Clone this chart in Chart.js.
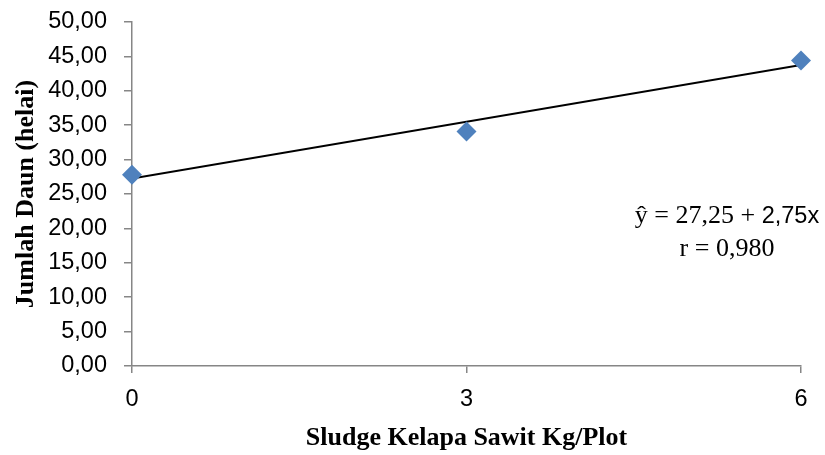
<!DOCTYPE html>
<html>
<head>
<meta charset="utf-8">
<script src="https://cdn.jsdelivr.net/npm/chart.js@4/dist/chart.umd.min.js"></script>
<style>
  html, body { margin: 0; padding: 0; background: #ffffff; }
  #c { display: block; }
</style>
</head>
<body>
<canvas id="c" width="825" height="455"></canvas>
<script>
// ---- data ----
const doseKg = [0, 3, 6];
const leafCount = [27.8, 34.1, 44.4];
const xTicks = [0, 3, 6];
const yTicks = [0, 5, 10, 15, 20, 25, 30, 35, 40, 45, 50];
const trendIntercept = 27.25;
const trendSlope = 2.75;
const trendX = [0, 6];
const trendY = [27.25, 43.75];
const rValue = '0,980';

const fmt = (v, d) => v.toFixed(d).replace('.', ',');

const scatterPts = doseKg.map((x, i) => ({ x: x, y: leafCount[i] }));
const trendPts = trendX.map((x, i) => ({ x: x, y: trendY[i] }));

const eqPlugin = {
  id: 'eq',
  afterDraw(chart) {
    const ctx = chart.ctx;
    ctx.save();
    ctx.fillStyle = '#000000';
    ctx.textBaseline = 'alphabetic';
    const serif = '26px "Liberation Serif", "Times New Roman", serif';
    const sans = '23.5px "Liberation Sans", Arial, sans-serif';
    const p1 = '\u0177 = ' + fmt(trendIntercept, 2) + ' + ';
    const p2 = fmt(trendSlope, 2) + 'x';
    ctx.font = serif; const w1 = ctx.measureText(p1).width;
    ctx.font = sans; const w2 = ctx.measureText(p2).width;
    const cx = 727;
    let x0 = cx - (w1 + w2) / 2;
    ctx.textAlign = 'left';
    ctx.font = serif; ctx.fillText(p1, x0, 223);
    ctx.font = sans; ctx.fillText(p2, x0 + w1, 223);
    ctx.font = serif; ctx.textAlign = 'center';
    ctx.fillText('r = ' + rValue, cx, 256);
    ctx.restore();
  }
};

new Chart(document.getElementById('c'), {
  type: 'scatter',
  data: {
    datasets: [
      {
        type: 'line',
        data: trendPts,
        borderColor: '#000000',
        borderWidth: 2,
        pointRadius: 0,
        fill: false,
        order: 2
      },
      {
        type: 'scatter',
        data: scatterPts,
        pointStyle: 'rectRot',
        pointRadius: 10,
        pointHoverRadius: 10,
        backgroundColor: '#4F81BD',
        borderColor: '#4F81BD',
        borderWidth: 0,
        clip: false,
        order: 1
      }
    ]
  },
  options: {
    responsive: false,
    animation: false,
    events: [],
    layout: { padding: { left: 0, top: 22, right: 24, bottom: 0 } },
    plugins: { legend: { display: false }, tooltip: { enabled: false } },
    scales: {
      x: {
        type: 'linear',
        min: 0, max: 6,
        afterFit(s) { s.height = 89; s.paddingLeft = 0; s.paddingRight = 0; },
        afterBuildTicks(s) { s.ticks = xTicks.map(v => ({ value: v })); },
        grid: { drawOnChartArea: false, drawTicks: true, tickLength: 7, color: '#868686', lineWidth: 1.5 },
        border: { color: '#868686', width: 1.5 },
        ticks: {
          color: '#000000',
          padding: 12,
          font: { family: '"Liberation Sans", Arial, sans-serif', size: 23.5 },
          callback: v => String(v)
        },
        title: {
          display: true,
          text: 'Sludge Kelapa Sawit Kg/Plot',
          color: '#000000',
          font: { family: '"Liberation Serif", "Times New Roman", serif', size: 26, weight: 'bold', lineHeight: 1 },
          padding: { top: 0, bottom: 4 }
        }
      },
      y: {
        min: 0, max: 50,
        afterFit(s) { s.width = 132; s.paddingTop = 0; s.paddingBottom = 0; },
        afterBuildTicks(s) { s.ticks = yTicks.map(v => ({ value: v })); },
        grid: { drawOnChartArea: false, drawTicks: true, tickLength: 8, color: '#868686', lineWidth: 1.5 },
        border: { color: '#868686', width: 1.5 },
        ticks: {
          color: '#000000',
          padding: 17,
          font: { family: '"Liberation Sans", Arial, sans-serif', size: 23.5 },
          callback: v => fmt(v, 2)
        },
        title: {
          display: true,
          text: 'Jumlah Daun (helai)',
          color: '#000000',
          font: { family: '"Liberation Serif", "Times New Roman", serif', size: 26, weight: 'bold', lineHeight: 1 },
          padding: { top: 13, bottom: 0 }
        }
      }
    }
  },
  plugins: [eqPlugin]
});
</script>
</body>
</html>
